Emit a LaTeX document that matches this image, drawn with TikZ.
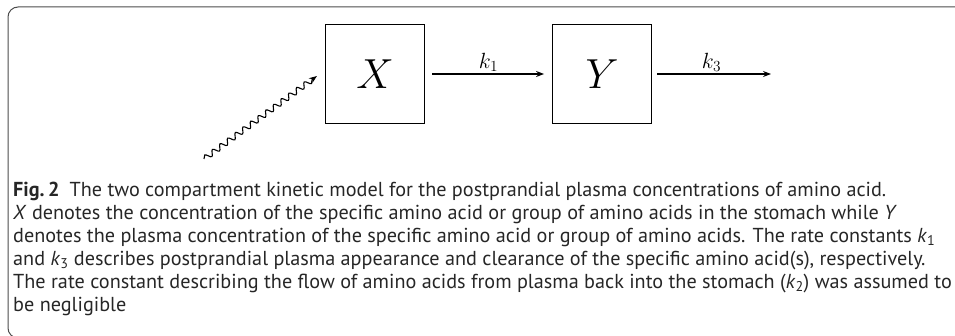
\RequirePackage{fix-cm}
\documentclass[tikz,border=0pt]{standalone}
\usepackage{fontspec}
\setsansfont{PT Sans}
\usetikzlibrary{positioning,arrows.meta,decorations.pathmorphing}

\begin{document}
\begin{tikzpicture}[x=1pt, y=-1pt,
  node distance=127pt,
  comp/.style={draw, line width=1.1pt, minimum size=99pt, inner sep=0pt, font=\fontsize{42}{42}\selectfont},
  arrow/.style={-{Stealth[length=8pt,width=6pt]}, line width=1.1pt},
  rate/.style={above, inner sep=2pt, font=\fontsize{22}{22}\selectfont},
  wavy/.style={arrow, decorate, decoration={snake, amplitude=2.8pt, segment length=9.5pt, post length=5pt}},
  frame/.style={draw=black!70, line width=1pt, rounded corners=10pt},
  caption/.style={align=left, inner sep=0pt, text=black!85, font=\sffamily\fontsize{20.2}{23}\selectfont}]
\useasboundingbox (0,0) rectangle (955,336);
\draw[frame] (960,7) -- (8,7) -- (8,338) -- (60,338);
% compartments
\node[comp] (boxX) at (375,74) {$X$};
\node[comp, right=of boxX] (boxY) {$Y$};
\coordinate (intake) at (204,159);
\coordinate (out) at (771,74);
\draw[wavy] (intake) -- ([xshift=-8pt,yshift=-2pt]boxX.west);
\draw[arrow, shorten <=7pt, shorten >=8pt] (boxX) -- node[rate] (k1) {$k_1$} (boxY);
\draw[arrow, shorten <=5pt] (boxY) -- node[rate] (k3) {$k_3$} (out);
% caption
\node[caption, anchor=north west] (cap) at (13,182) {\textbf{Fig.\,2}\enspace The two compartment kinetic model for the postprandial plasma concentrations of amino acid.\\
\textit{X} denotes the concentration of the specific amino acid or group of amino acids in the stomach while \textit{Y}\\
denotes the plasma concentration of the specific amino acid or group of amino acids. The rate constants \textit{k}\textsubscript{1}\\
and \textit{k}\textsubscript{3} describes postprandial plasma appearance and clearance of the specific amino acid(s), respectively.\\
The rate constant describing the flow of amino acids from plasma back into the stomach (\textit{k}\textsubscript{2}) was assumed to\\
be negligible};
\end{tikzpicture}
\end{document}
